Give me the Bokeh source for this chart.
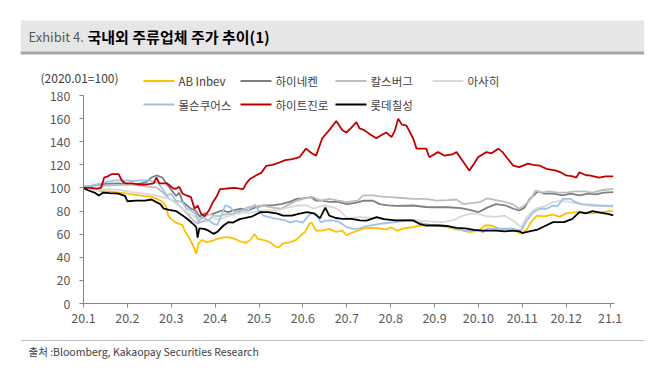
from bokeh.plotting import figure
from bokeh.models import Range1d, FixedTicker, Label, BoxAnnotation, LinearAxis
from bokeh.embed import file_html
from bokeh.resources import INLINE

FONT = "Noto Sans CJK KR"

# ---------------- data (x = months since 2020.01, y = index 2020.01=100) ----------------
tick_labels = ["20.1", "20.2", "20.3", "20.4", "20.5", "20.6", "20.7",
               "20.8", "20.9", "20.10", "20.11", "20.12", "21.1"]
y_ticks = [0, 20, 40, 60, 80, 100, 120, 140, 160, 180]

ab_x = [0.00, 0.05, 0.15, 0.3, 0.45, 0.6, 0.8, 1.0, 1.2, 1.4, 1.55, 1.65, 1.8, 1.88, 1.93, 2.0, 2.1,
        2.25, 2.32, 2.42, 2.5, 2.57, 2.62, 2.7, 2.8, 2.95, 3.05, 3.15, 3.3, 3.45, 3.55, 3.7, 3.8, 3.9,
        3.97, 4.1, 4.25, 4.38, 4.45, 4.55, 4.7, 4.85, 4.95, 5.05, 5.15, 5.2, 5.3, 5.45, 5.6, 5.75, 5.9,
        6.0, 6.1, 6.25, 6.4, 6.55, 6.75, 6.9, 7.0, 7.15, 7.3, 7.5, 7.7, 7.9, 8.1, 8.25, 8.45, 8.65, 8.8,
        9.0, 9.15, 9.3, 9.45, 9.6, 9.75, 9.85, 9.97, 10.1, 10.2, 10.33, 10.5, 10.7, 10.85, 11.0, 11.25,
        11.4, 11.6, 11.8, 12.0, 12.07]
ab_y = [100, 102, 101, 98, 97, 97, 96, 95, 94, 93, 92.5, 91, 88, 84, 76, 73, 70,
        68, 62, 56, 50, 43, 52, 55, 53, 54.5, 56, 57, 57.5, 56, 54, 52.5, 55, 60,
        56, 55, 53, 49, 48.7, 52, 53, 55, 58.8, 62, 69, 70, 63, 63, 64.6, 62, 63,
        59, 61, 63, 65, 65.5, 65, 64, 66, 63, 65, 66, 67.5, 68, 67, 66.5, 64.6, 63, 61.7,
        63, 67.5, 67.5, 65, 64, 65, 63, 60.3, 64, 70.4, 76, 75.5, 77, 75, 78, 79,
        79, 78, 79, 80, 80]

hn_x = [0.0, 0.2, 0.5, 0.8, 1.05, 1.3, 1.43, 1.55, 1.66, 1.8, 1.85, 1.95, 2.05, 2.11, 2.18, 2.26,
        2.35, 2.45, 2.55, 2.65, 2.75, 2.85, 2.95, 3.05, 3.15, 3.3, 3.45, 3.6, 3.75, 3.9, 4.1, 4.3,
        4.5, 4.7, 4.86, 5.0, 5.19, 5.3, 5.45, 5.6, 5.8, 6.0, 6.2, 6.37, 6.6, 6.75, 6.95, 7.13, 7.51,
        7.8, 8.0, 8.3, 8.6, 8.8, 9.0, 9.2, 9.4, 9.6, 9.8, 9.93, 10.05, 10.16, 10.35, 10.5, 10.7,
        10.92, 11.1, 11.3, 11.5, 11.68, 11.85, 12.07]
hn_y = [100, 102, 103.5, 104, 103, 104, 105, 109, 110.8, 109, 106, 100.7, 96, 93, 96, 88,
        85, 82, 80.5, 75, 78, 76.5, 77.6, 79, 80.5, 79, 81, 82, 80.5, 83, 84.8, 85,
        86, 88, 90.6, 91, 92, 89, 89, 88, 88, 86, 87, 88.9, 88.9, 86, 85, 84.5, 84.8,
        83.5, 83.3, 83.3, 82.6, 81, 79, 83, 86, 85, 82, 80.5, 83, 90, 97, 95, 95,
        93.5, 95, 93.5, 95, 94.5, 96, 96.3]

cb_x = [0.0, 0.2, 0.5, 0.8, 1.05, 1.3, 1.5, 1.66, 1.81, 1.95, 2.1, 2.26, 2.4, 2.5, 2.6, 2.7, 2.85,
        2.96, 3.1, 3.2, 3.5, 3.72, 3.9, 4.1, 4.3, 4.5, 4.7, 4.86, 5.05, 5.24, 5.4, 5.6, 5.8, 6.0,
        6.25, 6.37, 6.6, 6.8, 7.0, 7.2, 7.51, 7.8, 8.05, 8.3, 8.5, 8.65, 8.9, 9.05, 9.2, 9.4, 9.6,
        9.78, 9.93, 10.05, 10.2, 10.3, 10.45, 10.6, 10.8, 11.0, 11.2, 11.4, 11.6, 11.8, 12.07]
cb_y = [100, 102, 102, 102.5, 103, 102, 101, 100.5, 96, 90.6, 87.7, 82, 76, 72, 69, 71, 72,
        76, 75.5, 77, 78, 83, 84, 84.8, 83, 82, 86, 89, 91, 92, 89, 90.6, 89, 87.7,
        89, 93.5, 93.5, 92.5, 92, 91.5, 90.6, 90.6, 89, 89.5, 90, 86, 87, 88, 91, 89.5, 88,
        86, 82, 85, 91, 97.8, 96, 97, 96, 96, 97, 97, 96, 98, 99.2]

as_x = [0.0, 0.3, 0.6, 0.85, 1.1, 1.4, 1.6, 1.81, 2.0, 2.15, 2.26, 2.4, 2.55, 2.65, 2.75, 2.9,
        3.0, 3.1, 3.3, 3.5, 3.7, 3.9, 4.1, 4.4, 4.65, 4.86, 5.1, 5.24, 5.45, 5.7, 5.85, 6.0, 6.3,
        6.6, 6.75, 7.13, 7.4, 7.6, 7.9, 8.2, 8.4, 8.5, 8.65, 8.85, 9.05, 9.2, 9.4, 9.6, 9.78, 9.97,
        10.1, 10.3, 10.5, 10.7, 10.9, 11.1, 11.3, 11.6, 11.85, 12.07]
as_y = [100, 98, 99, 98, 96.3, 95, 94, 92, 90, 85, 82, 78, 75, 73.3, 75, 77,
        73, 73, 75.5, 77.6, 78.5, 79, 80.5, 80.5, 83, 84.8, 84.8, 82, 84.8, 83.3, 80, 74, 74.7,
        74, 73.3, 72, 72.5, 72, 71, 70.4, 72, 73.3, 76, 78, 77, 75.5, 75, 76, 72, 66,
        75, 82, 84, 87.7, 88.9, 87.7, 86, 85.5, 85, 84.8]

mc_x = [0.0, 0.1, 0.3, 0.5, 0.7, 0.9, 1.1, 1.3, 1.5, 1.6, 1.7, 1.8, 1.9, 2.0, 2.1, 2.25, 2.35,
        2.45, 2.55, 2.62, 2.7, 2.85, 2.96, 3.05, 3.15, 3.23, 3.35, 3.45, 3.6, 3.75, 3.85, 3.91,
        4.0, 4.1, 4.3, 4.45, 4.6, 4.71, 4.85, 5.0, 5.16, 5.3, 5.4, 5.55, 5.7, 5.85, 6.0, 6.15,
        6.3, 6.45, 6.75, 7.1, 7.4, 7.6, 7.9, 8.25, 8.5, 8.7, 8.9, 9.03, 9.1, 9.2, 9.4, 9.6, 9.8,
        9.97, 10.1, 10.25, 10.4, 10.55, 10.7, 10.8, 10.92, 11.1, 11.22, 11.35, 11.6, 11.8, 12.07]
mc_y = [100, 101, 103, 105, 106.5, 106.5, 106, 106.5, 106.5, 105, 104.5, 99, 93.5, 95, 89, 87.7, 82,
        80, 78, 70.4, 75, 72, 69, 68, 77, 85, 83, 79, 80.5, 80.5, 84, 85.5,
        80, 76, 74, 73, 72, 70, 71.5, 70, 77.6, 78, 70.4, 71.8, 72, 70, 66, 64.6,
        65, 67, 69, 70.4, 72, 70.4, 68, 67.5, 64.6, 63, 63.5, 63, 61.7, 65, 64.6, 64.8, 64.6,
        63, 71.8, 79, 82, 82, 84.8, 84, 90.5, 90.5, 87.7, 86, 84.8, 84.5, 84]

hj_x = [0.0, 0.15, 0.3, 0.4, 0.47, 0.55, 0.65, 0.8, 0.88, 0.95, 1.1, 1.25, 1.45, 1.6, 1.66, 1.73,
        1.9, 2.05, 2.11, 2.18, 2.26, 2.35, 2.45, 2.53, 2.6, 2.68, 2.76, 2.85, 2.95, 3.04, 3.11,
        3.26, 3.45, 3.64, 3.71, 3.8, 3.94, 4.05, 4.16, 4.3, 4.46, 4.6, 4.76, 4.92, 5.07, 5.2, 5.3,
        5.44, 5.6, 5.76, 5.9, 5.99, 6.1, 6.22, 6.29, 6.4, 6.51, 6.67, 6.8, 6.9, 7.02, 7.1, 7.17,
        7.25, 7.36, 7.51, 7.59, 7.81, 7.88, 8.08, 8.22, 8.4, 8.5, 8.61, 8.7, 8.79, 8.9, 8.99, 9.18,
        9.3, 9.45, 9.55, 9.64, 9.79, 9.93, 10.13, 10.25, 10.39, 10.55, 10.77, 10.9, 11.0, 11.15,
        11.23, 11.3, 11.45, 11.53, 11.75, 11.9, 12.07]
hj_y = [100, 100, 99.5, 100, 109, 110, 112, 112, 106, 104, 104, 103, 103, 104, 109, 104,
        104, 99.5, 99.3, 101, 95, 93.5, 92, 82, 84.8, 77.6, 75.5, 80, 87.7, 93, 99,
        99.5, 100, 99, 104, 108, 111, 113, 119, 120, 122, 124, 125, 126.6, 134, 130, 128,
        143, 150, 158, 150, 148, 152, 157, 151.5, 150, 147, 143, 146, 148, 144, 150, 160,
        155, 154, 143, 134, 134, 126.6, 131, 128, 129, 131, 125, 120, 115, 121, 126.6, 131,
        130, 134, 131, 126.6, 119.4, 118, 121, 120, 119.4, 116.5, 115, 113, 110.8, 110,
        109, 113.6, 111, 110.8, 109, 110, 110]

lt_x = [0.0, 0.1, 0.25, 0.35, 0.45, 0.6, 0.8, 0.95, 1.0, 1.2, 1.4, 1.55, 1.66, 1.75, 1.83, 1.95,
        2.11, 2.2, 2.3, 2.41, 2.52, 2.57, 2.6, 2.64, 2.75, 2.85, 2.96, 3.05, 3.19, 3.3, 3.4, 3.56,
        3.7, 3.85, 4.03, 4.2, 4.4, 4.55, 4.75, 4.9, 5.09, 5.25, 5.39, 5.51, 5.6, 5.75, 5.9, 6.1,
        6.3, 6.45, 6.68, 6.85, 7.1, 7.3, 7.51, 7.65, 7.8, 8.1, 8.3, 8.5, 8.7, 8.9, 9.1, 9.4, 9.6,
        9.78, 9.93, 10.0, 10.16, 10.35, 10.54, 10.7, 10.95, 11.14, 11.3, 11.45, 11.6, 11.8, 11.95,
        12.07]
lt_y = [100, 98, 96, 93.5, 96, 95.5, 95, 93, 88.5, 89, 89, 90, 87.7, 86, 82, 81,
        80, 77.6, 75, 71.8, 68, 66, 57, 65, 64.6, 63, 60.3, 62, 67.5, 70.4, 70, 73,
        74, 75.5, 79, 79, 78, 76, 76, 77.6, 79, 78, 73.9, 83, 76, 74, 73.3, 73.3,
        72, 71.8, 74.7, 73, 72, 72, 72, 69, 67.5, 67.5, 67, 65.5, 65, 63.8, 63, 63, 62.5,
        63, 62.5, 61, 62.5, 64, 67.5, 70.4, 70.4, 73.3, 79, 78, 80, 78.5, 77.5,
        76.2]

series_names = ["AB Inbev", "하이네켄", "칼스버그", "아사히", "몰슨쿠어스", "하이트진로", "롯데칠성"]
series_x = [ab_x, hn_x, cb_x, as_x, mc_x, hj_x, lt_x]
series_y = [ab_y, hn_y, cb_y, as_y, mc_y, hj_y, lt_y]
series_colors = ["#FFC000", "#7F7F7F", "#BDBDBD", "#D9D9D9", "#9DC3E6", "#C00000", "#000000"]

# ---------------- geometry (page pixels as photographed) ----------------
ORG_X, ORG_Y = 0, 0            # where the canvas origin lands
SHIFT = 30                     # canvas pushed left so the empty axis panel falls off-page
BL, BR, BB = 50, 10, 40        # side borders (left panel holds the y axis, below panel the x axis)
X_AX, X_END_PX = 83, 609.6     # page x of 20.1 and 21.1
Y_AX, Y_TOP_PX = 303, 95       # page y of 0 and 180
FL = ORG_X - SHIFT + BL        # frame left on the page  (=20)
FR = 644                       # frame right on the page
FT = ORG_Y                     # frame top on the page
FB = 371                       # frame bottom on the page
W = FR - FL + BL + BR
H = FB - FT + BB
PXM = (X_END_PX - X_AX) / 12.0
PXU = (Y_AX - Y_TOP_PX) / 180.0

def mx(px):
    return (px - X_AX) / PXM

def vy(py):
    return (Y_AX - py) / PXU

p = figure(width=W, height=H, x_range=Range1d(mx(FL), mx(FR)), y_range=Range1d(vy(FB), vy(FT)),
           output_backend="svg", toolbar_location=None,
           x_axis_location=None, y_axis_location=None,
           min_border_left=BL, min_border_right=BR, min_border_top=0, min_border_bottom=BB,
           outline_line_color=None, margin=(0, 0, 0, -SHIFT))
p.grid.visible = False

for xs, ys, col in zip(series_x, series_y, series_colors):
    p.line(x=xs, y=ys, line_color=col, line_width=1.8)

xax = LinearAxis(fixed_location=0, bounds=(0, mx(614)),
                 ticker=FixedTicker(ticks=list(range(len(tick_labels)))),
                 major_label_overrides={i: t for i, t in enumerate(tick_labels)},
                 major_label_standoff=5)
yax = LinearAxis(fixed_location=0, bounds=(0, 180), ticker=FixedTicker(ticks=y_ticks),
                 major_label_standoff=9)
for ax in (xax, yax):
    ax.axis_line_color = "#868686"
    ax.major_tick_line_color = "#868686"
    ax.major_tick_out = 4
    ax.major_tick_in = 0
    ax.minor_tick_out = 0
    ax.minor_tick_in = 0
    ax.major_label_text_font = FONT
    ax.major_label_text_font_size = "12.5px"
    ax.major_label_text_color = "#595959"
p.add_layout(xax, "below")
p.add_layout(yax, "left")

# ---------------- title band ----------------
p.add_layout(BoxAnnotation(left=mx(20), right=mx(644), bottom=vy(51), top=vy(20),
                           fill_color="#E7E6E6", fill_alpha=1, line_color=None))
p.add_layout(BoxAnnotation(left=mx(20), right=mx(644), bottom=vy(54), top=vy(51),
                           fill_color="#A6A6A6", fill_alpha=1, line_color=None))
p.add_layout(Label(x=mx(28), y=vy(36), text="Exhibit 4.", text_font=FONT,
                   text_font_size="13px", text_color="#595959",
                   text_baseline="middle", text_align="left"))
p.add_layout(Label(x=mx(87), y=vy(36), text="국내외 주류업체 주가 추이(1)", text_font=FONT,
                   text_font_size="15px", text_font_style="bold", text_color="#000000",
                   text_baseline="middle", text_align="left"))

# ---------------- unit note and legend ----------------
p.add_layout(Label(x=mx(40), y=vy(77), text="(2020.01=100)", text_font=FONT,
                   text_font_size="12px", text_color="#404040",
                   text_baseline="middle", text_align="left"))

legend_pos = [(143, 80.5), (240, 80.5), (335, 80.5), (432, 80.5),
              (143, 104), (240, 104), (335, 104)]
for name, col, (lx, ly) in zip(series_names, series_colors, legend_pos):
    p.add_layout(BoxAnnotation(left=mx(lx), right=mx(lx + 31), bottom=vy(ly + 1), top=vy(ly - 1),
                               fill_color=col, fill_alpha=1, line_color=None))
    p.add_layout(Label(x=mx(lx + 35), y=vy(ly), text=name, text_font=FONT,
                       text_font_size="11.5px", text_color="#404040",
                       text_baseline="middle", text_align="left"))

# ---------------- footer ----------------
p.add_layout(BoxAnnotation(left=mx(20), right=mx(644), bottom=vy(340.5), top=vy(339.5),
                           fill_color="#BFBFBF", fill_alpha=1, line_color=None))
p.add_layout(Label(x=mx(28), y=vy(351), text="출처 :Bloomberg, Kakaopay Securities Research",
                   text_font=FONT, text_font_size="10.5px", text_color="#404040",
                   text_baseline="middle", text_align="left"))

open("out.html", "w").write(file_html(p, INLINE))
